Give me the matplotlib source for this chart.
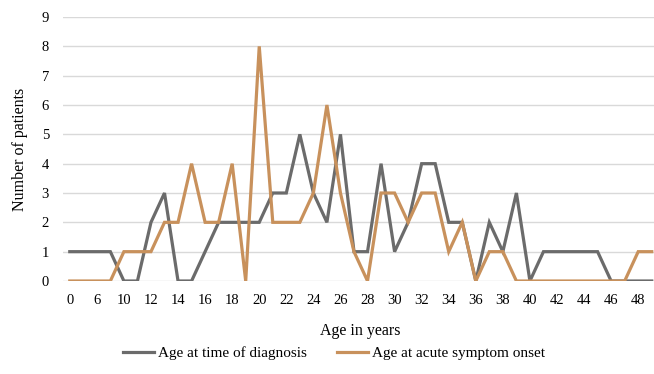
import matplotlib
matplotlib.use("Agg")
import matplotlib.pyplot as plt

ages = ["0", "3", "6", "8"] + [str(a) for a in range(10, 50)]
diagnosis = [1, 1, 1, 1, 0, 0, 2, 3, 0, 0, 1, 2, 2, 2, 2, 3, 3, 5, 3, 2, 5, 1, 1, 4,
             1, 2, 4, 4, 2, 2, 0, 2, 1, 3, 0, 1, 1, 1, 1, 1, 0, 0, 0, 0]
onset = [0, 0, 0, 0, 1, 1, 1, 2, 2, 4, 2, 2, 4, 0, 8, 2, 2, 2, 3, 6, 3, 1, 0, 3,
         3, 2, 3, 3, 1, 2, 0, 1, 1, 0, 0, 0, 0, 0, 0, 0, 0, 0, 1, 1]

plt.rcParams['font.family'] = ['Liberation Serif', 'DejaVu Serif']

fig = plt.figure(figsize=(6.54, 3.74), dpi=100)
ax = fig.add_axes([63/654, (374-281)/374, 595.5/654, 264/374])

x = list(range(len(ages)))
ax.plot(x, diagnosis, color="#6b6b6b", lw=2.3, label="Age at time of diagnosis", solid_joinstyle="miter")
ax.plot(x, onset, color="#c8915c", lw=2.3, label="Age at acute symptom onset", solid_joinstyle="miter")

ax.set_xlim(-0.5, len(ages) - 0.5)
ax.set_ylim(0, 9)
ax.set_yticks(range(0, 10))
ax.set_xticks(x[::2])
ax.set_xticklabels(ages[::2])
ax.grid(axis="y", color="#d9d9d9", lw=1)
ax.set_axisbelow(True)
for s in ax.spines.values():
    s.set_visible(False)
ax.tick_params(length=0, labelsize=10.5, colors="#000000")
ax.tick_params(axis="x", pad=9)
ax.tick_params(axis="y", pad=10)

ax.set_xlabel("Age in years", fontsize=11.5, labelpad=12)
ax.set_ylabel("Number of patients", fontsize=11.5, labelpad=10)

fig.legend(loc="center", bbox_to_anchor=(334/654, 1 - 353/374), ncol=2, frameon=False,
           fontsize=11, handlelength=2.0, handletextpad=0.25, columnspacing=2.0)

fig.savefig("out.png", dpi=100)
